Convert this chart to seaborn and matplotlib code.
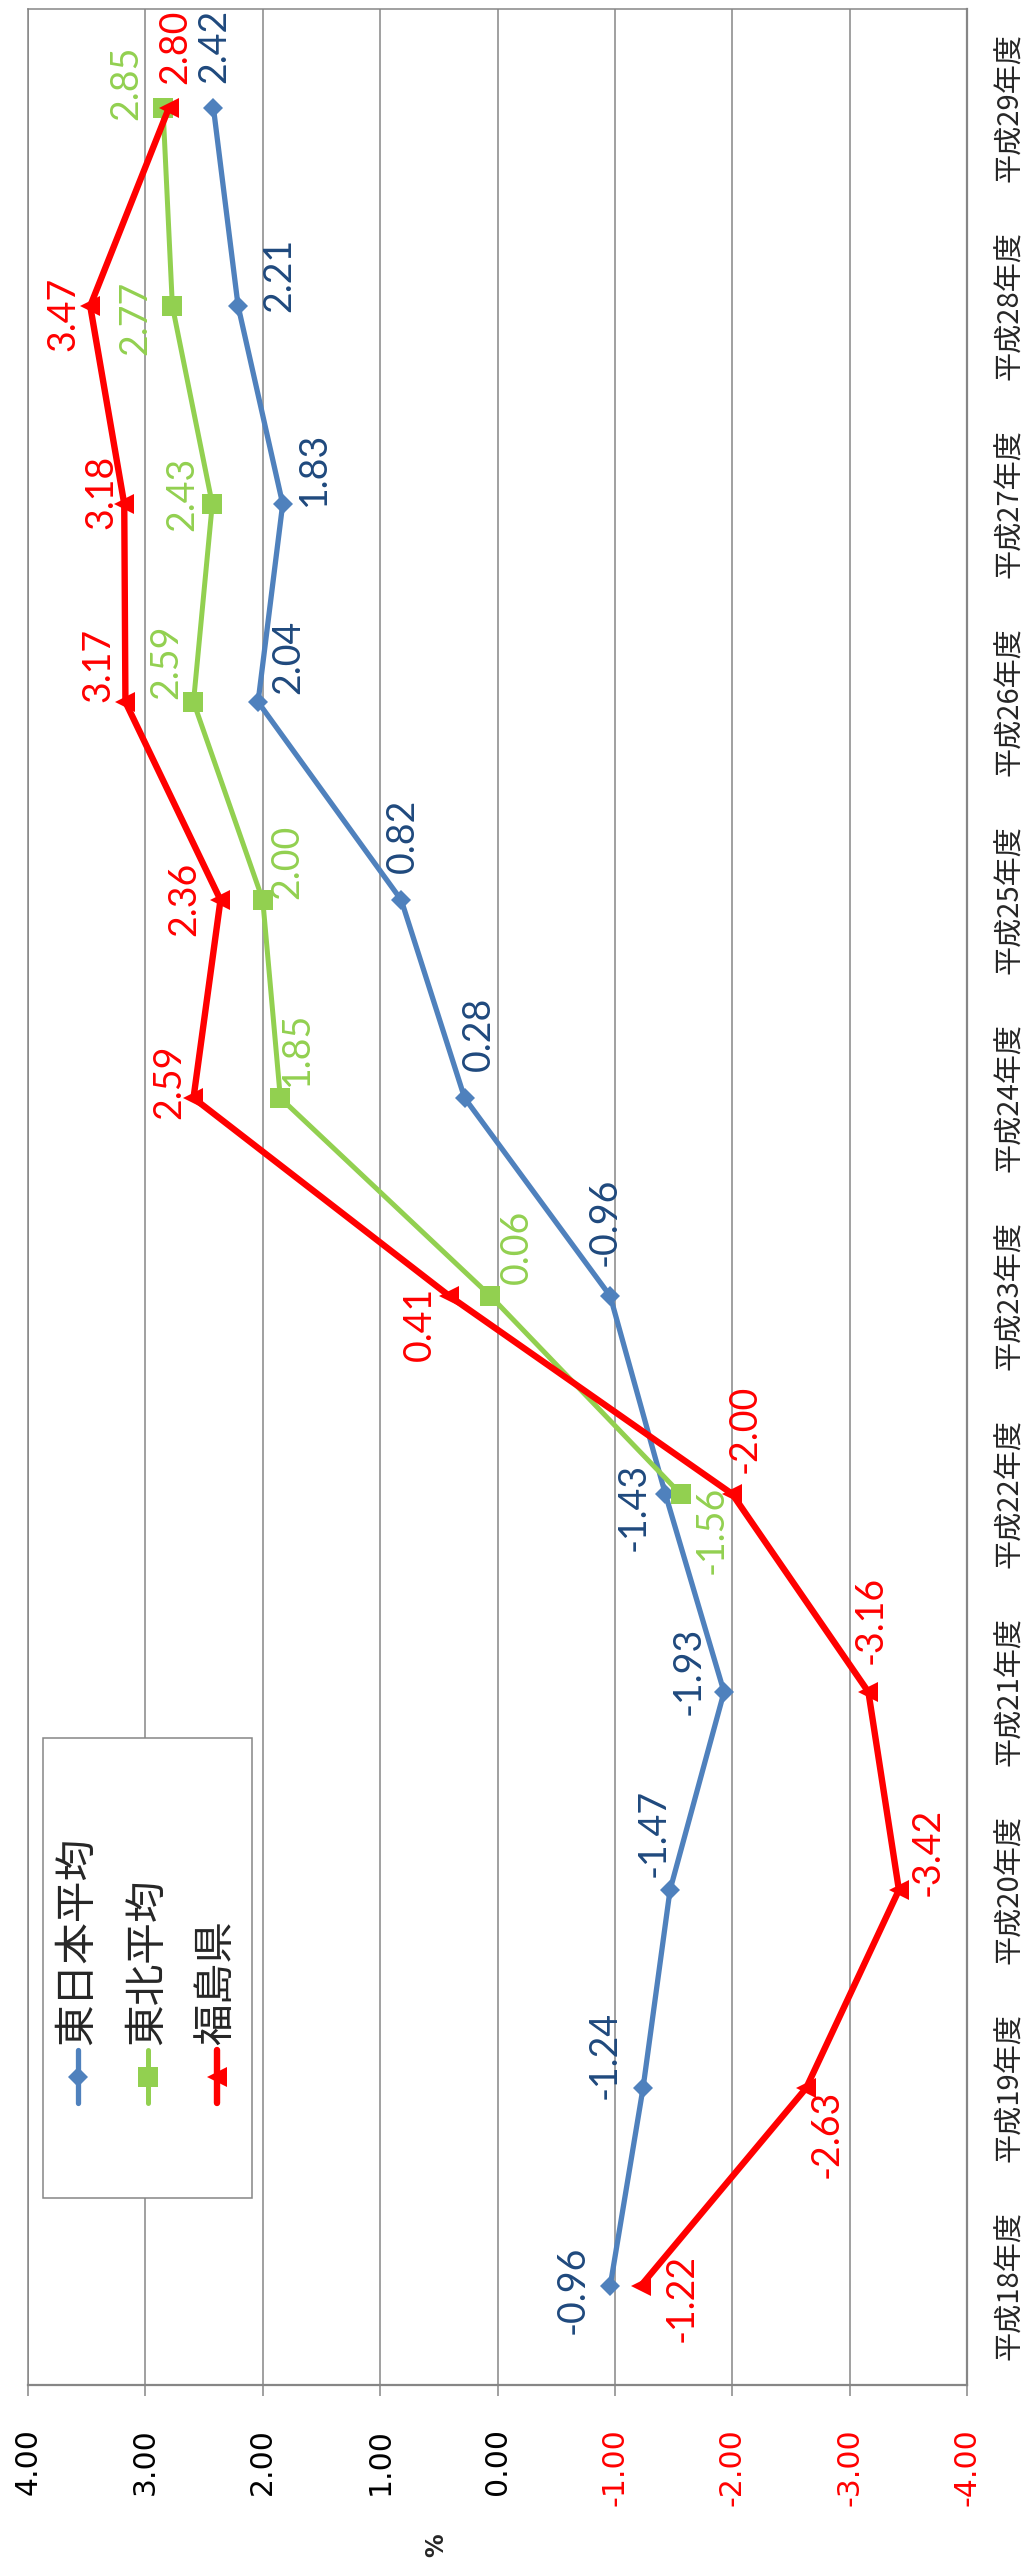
import matplotlib
matplotlib.use('Agg')
import matplotlib.pyplot as plt
import seaborn as sns
import pandas as pd
from matplotlib.lines import Line2D
from matplotlib.patches import Rectangle

sns.set_style("white")
plt.rcParams['font.family'] = ['DejaVu Sans']

# data
years = ['平成18年度', '平成19年度', '平成20年度', '平成21年度', '平成22年度', '平成23年度',
         '平成24年度', '平成25年度', '平成26年度', '平成27年度', '平成28年度', '平成29年度']
east_japan = [-0.96, -1.24, -1.47, -1.93, -1.43, -0.96, 0.28, 0.82, 2.04, 1.83, 2.21, 2.42]
tohoku = [None, None, None, None, -1.56, 0.06, 1.85, 2.00, 2.59, 2.43, 2.77, 2.85]
fukushima = [-1.22, -2.63, -3.42, -3.16, -2.00, 0.41, 2.59, 2.36, 3.17, 3.18, 3.47, 2.80]
series_names = ['東日本平均', '東北平均', '福島県']
value_ticks = [4, 3, 2, 1, 0, -1, -2, -3, -4]

# label placement (pixels: right, down) relative to each marker
east_offsets = [(-38, 4), (-38, -33), (-16, -57), (-35, -21), (-32, 13), (-6, -74),
                (14, -64), (2, -64), (30, -45), (31, -35), (41, -31), (1, -62)]
tohoku_offsets = [None, None, None, None, (31, 36), (26, -49), (17, -49), (25, -38),
                  (-27, -40), (-30, -10), (-37, 12), (-37, -25)]
fukushima_offsets = [(41, 12), (20, 46), (29, -38), (2, -72), (12, -65), (-30, 28),
                     (-24, -16), (-36, -1), (-27, -37), (-23, -12), (-27, 8), (6, -61)]

W, H = 1028, 2567
CJK = ['Noto Sans CJK JP', 'DejaVu Sans']
GRID = '#868686'

styles = [
    dict(color='#4F81BD', marker='D', ms=10, lw=3.8, label_color='#1F497D'),
    dict(color='#92D050', marker='s', ms=15, lw=3.6, label_color='#92D050'),
    dict(color='#FF0000', marker='<', ms=14, lw=4.6, label_color='#FF0000'),
]

df = pd.DataFrame({'idx': range(len(years)), 'east': east_japan,
                   'tohoku': tohoku, 'fukushima': fukushima})

fig = plt.figure(figsize=(W / 100, H / 100), dpi=100)
ax = fig.add_axes([28 / W, 1 - 2385 / H, (967 - 28) / W, (2385 - 9) / H])

cols = ['east', 'tohoku', 'fukushima']
offsets = [east_offsets, tohoku_offsets, fukushima_offsets]
for col, st, offs in zip(cols, styles, offsets):
    sub = df[['idx', col]].dropna()
    sns.lineplot(data=sub, x=col, y='idx', orient='y', ax=ax, color=st['color'],
                 linewidth=st['lw'], marker=st['marker'], markersize=st['ms'],
                 markeredgewidth=0, zorder=3)
    for i, v in zip(sub['idx'], sub[col]):
        dx, dy = offs[int(i)]
        ax.annotate(f'{v:.2f}', (v, i), xytext=(dx, -dy), textcoords='offset pixels',
                    ha='center', va='center', rotation=90, fontsize=27,
                    family=['Lato', 'DejaVu Sans'], color=st['label_color'], zorder=4)

ax.set_xlim(4, -4)
ax.set_ylim(-0.5, len(years) - 0.5)
ax.set_xlabel('')
ax.set_ylabel('')

ax.set_xticks(value_ticks)
ax.set_xticklabels([f'{t:.2f}'.replace('\u2212', '-') for t in value_ticks],
                   rotation=90, fontsize=21.5)
for lbl, t in zip(ax.get_xticklabels(), value_ticks):
    lbl.set_color('#FF0000' if t < 0 else 'black')
ax.tick_params(axis='x', direction='out', length=8, width=1.1, color=GRID, pad=23,
               bottom=True)

ax.yaxis.tick_right()
ax.set_yticks(range(len(years)))
ax.set_yticklabels(years, rotation=90, fontsize=21, family=CJK, va='center')
ax.tick_params(axis='y', length=0, pad=20)

ax.grid(axis='x', color=GRID, linewidth=1.1)
ax.grid(axis='y', visible=False)
for name, sp in ax.spines.items():
    sp.set_color(GRID)
    sp.set_linewidth(1.6 if name in ('bottom', 'right') else 1.1)

fig.text(436 / W, 1 - 2545 / H, '%', rotation=90, fontsize=17, fontweight='bold',
         ha='center', va='center')

# legend drawn rotated, like the rest of the chart
fx = lambda x: x / W
fy = lambda y: 1 - y / H
box = Rectangle((fx(43), fy(2198)), (252 - 43) / W, (2198 - 1738) / H,
                transform=fig.transFigure, facecolor='white', edgecolor=GRID,
                linewidth=1.1, zorder=5)
fig.add_artist(box)
for xc, name, st in zip([78, 148, 217], series_names, styles):
    fig.add_artist(Line2D([fx(xc), fx(xc)], [fy(2050), fy(2103)], transform=fig.transFigure,
                          color=st['color'], linewidth=st['lw'], solid_capstyle='round',
                          zorder=6))
    fig.add_artist(Line2D([fx(xc)], [fy(2077)], transform=fig.transFigure,
                          color=st['color'], marker=st['marker'], markersize=st['ms'],
                          markeredgewidth=0, linestyle='none', zorder=7))
    fig.text(fx(xc), fy(2045), name, rotation=90, ha='center', va='bottom',
             fontsize=30, family=CJK, zorder=7)

fig.savefig('out.png', dpi=100)
